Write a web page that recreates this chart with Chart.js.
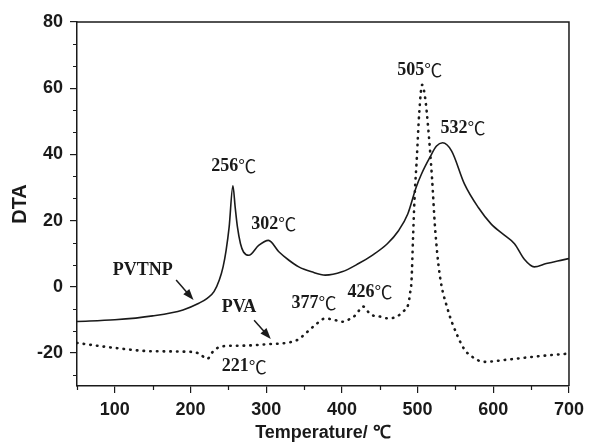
<!DOCTYPE html>
<html>
<head>
<meta charset="utf-8">
<script src="https://cdn.jsdelivr.net/npm/chart.js@4.4.1/dist/chart.umd.min.js"></script>
<style>
  body { margin: 0; background: #fff; }
  canvas { display: block; }
</style>
</head>
<body>
<canvas id="dtaChart" width="590" height="444"></canvas>
<script>
// PVTNP (solid curve)
var pvtnpTemp = [50, 100, 150, 190, 211, 222, 231, 238, 243, 247, 251, 256, 259, 262, 266, 270, 277, 290, 303, 317, 330, 343, 360, 378, 400, 422, 440, 460, 475, 487, 498, 505, 516, 525, 533, 545, 562, 580, 597, 615, 628, 641, 654, 670, 685, 700];
var pvtnpDta = [-10.5, -10, -8.8, -7, -5, -3.5, -1.5, 2, 6, 11, 18, 30.5, 24, 18, 13, 10.5, 9.5, 12.5, 14, 10.5, 8, 6, 4.5, 3.5, 4.5, 7, 9.5, 13, 17, 22, 30, 34, 39, 42.5, 43.5, 41, 31, 24, 19, 15.5, 13, 8.3, 6, 7, 7.8, 8.5];

// PVA (dotted curve)
var pvaTemp = [50, 100, 150, 203, 212, 222, 230, 242, 270, 300, 340, 355, 365, 378, 390, 400, 410, 418, 428, 438, 450, 462, 474, 481, 488, 490, 492, 494, 496, 499, 502, 506, 510, 514, 519, 523, 529, 540, 553, 562, 571, 588, 620, 660, 700];
var pvaDta = [-17, -18.5, -19.5, -19.7, -20.3, -21.8, -19.5, -18, -17.8, -17.4, -16.2, -13.5, -11.5, -9.6, -10, -10.6, -9.8, -8.6, -6, -8.4, -9, -9.6, -8.8, -7.5, -5, -2, 2, 15, 27, 39, 52, 61, 57, 48, 33, 18, 4, -7, -15, -19, -21, -22.7, -22, -21, -20.2];

// text labels placed in data coordinates
var noteText = ["256℃", "302℃", "505℃", "532℃", "PVTNP", "PVA", "377℃", "426℃", "221℃"];
var noteX = [257, 310, 503, 560, 137, 264, 363, 437, 271];
var noteY = [36.4, 19, 65.4, 47.8, 5, -6.1, -5.1, -1.6, -24.2];

// arrows: from (x0,y0) to (x1,y1)
var arrowX0 = [181, 284];
var arrowY0 = [2, -10.1];
var arrowX1 = [204, 306];
var arrowY1 = [-4, -15.8];

var xMinor = [50, 150, 250, 350, 450, 550, 650];
var yMinor = [-26.67, -13.33, -6.67, 6.67, 13.33, 26.67, 33.33, 46.67, 53.33, 66.67, 73.33];

var ink = "#1a1a1a";
var numFont = "bold 18px 'Liberation Serif'";
var degFont = "18px 'Noto Sans CJK SC'";

function toPoints(xs, ys) {
  return xs.map(function(x, i) { return { x: x, y: ys[i] }; });
}

function drawNote(ctx, text, cx, cy) {
  var head = text.replace("℃", "");
  var hasDeg = text.indexOf("℃") >= 0;
  ctx.font = numFont;
  var w1 = ctx.measureText(head).width;
  ctx.font = degFont;
  var w2 = hasDeg ? ctx.measureText("℃").width : 0;
  var left = cx - (w1 + w2) / 2;
  ctx.textAlign = "left";
  ctx.textBaseline = "middle";
  ctx.font = numFont;
  ctx.fillText(head, left, cy);
  if (hasDeg) {
    ctx.font = degFont;
    ctx.fillText("℃", left + w1, cy);
  }
}

var extras = {
  id: "extras",
  afterDraw: function(chart) {
    var ctx = chart.ctx;
    var xs = chart.scales.x;
    var ys = chart.scales.y;
    var area = chart.chartArea;
    ctx.save();
    ctx.strokeStyle = ink;
    ctx.fillStyle = ink;

    // frame top and right
    ctx.lineWidth = 1.5;
    ctx.beginPath();
    ctx.moveTo(area.left, area.top);
    ctx.lineTo(area.right, area.top);
    ctx.lineTo(area.right, area.bottom);
    ctx.stroke();

    // minor ticks
    ctx.lineWidth = 1.2;
    ctx.beginPath();
    xMinor.forEach(function(v) {
      var px = Math.round(xs.getPixelForValue(v)) + 0.5;
      ctx.moveTo(px, area.bottom);
      ctx.lineTo(px, area.bottom + 4);
    });
    yMinor.forEach(function(v) {
      var py = Math.round(ys.getPixelForValue(v)) + 0.5;
      ctx.moveTo(area.left, py);
      ctx.lineTo(area.left - 4, py);
    });
    ctx.stroke();

    // labels
    noteText.forEach(function(t, i) {
      drawNote(ctx, t, xs.getPixelForValue(noteX[i]), ys.getPixelForValue(noteY[i]));
    });

    // arrows
    arrowX0.forEach(function(v, i) {
      var x0 = xs.getPixelForValue(v), y0 = ys.getPixelForValue(arrowY0[i]);
      var x1 = xs.getPixelForValue(arrowX1[i]), y1 = ys.getPixelForValue(arrowY1[i]);
      var a = Math.atan2(y1 - y0, x1 - x0);
      ctx.lineWidth = 1.5;
      ctx.beginPath();
      ctx.moveTo(x0, y0);
      ctx.lineTo(x1 - 6 * Math.cos(a), y1 - 6 * Math.sin(a));
      ctx.stroke();
      ctx.beginPath();
      ctx.moveTo(x1, y1);
      ctx.lineTo(x1 - 11 * Math.cos(a) + 4 * Math.sin(a), y1 - 11 * Math.sin(a) - 4 * Math.cos(a));
      ctx.lineTo(x1 - 11 * Math.cos(a) - 4 * Math.sin(a), y1 - 11 * Math.sin(a) + 4 * Math.cos(a));
      ctx.closePath();
      ctx.fill();
    });
    ctx.restore();
  }
};

var tickFont = { family: "'Liberation Sans', Arial", size: 18, weight: "bold" };

var ctx = document.getElementById("dtaChart").getContext("2d");
var dtaChart = new Chart(ctx, {
  type: "line",
  data: {
    datasets: [
      {
        label: "PVTNP",
        data: toPoints(pvtnpTemp, pvtnpDta),
        borderColor: ink,
        borderWidth: 1.6,
        pointRadius: 0,
        cubicInterpolationMode: "monotone"
      },
      {
        label: "PVA",
        data: toPoints(pvaTemp, pvaDta),
        borderColor: ink,
        borderWidth: 2.6,
        borderDash: [0.5, 6.2],
        borderCapStyle: "round",
        pointRadius: 0,
        cubicInterpolationMode: "monotone"
      }
    ]
  },
  options: {
    responsive: false,
    animation: false,
    layout: { padding: { top: 22, right: 18, left: 0, bottom: 0 } },
    plugins: { legend: { display: false }, tooltip: { enabled: false } },
    scales: {
      x: {
        type: "linear",
        min: 50,
        max: 700,
        ticks: { stepSize: 100, includeBounds: false, font: tickFont, color: ink, padding: 6, maxRotation: 0 },
        grid: { drawOnChartArea: false, tickLength: 7, color: ink, lineWidth: 1.2 },
        border: { color: ink, width: 1.5 },
        title: { display: true, text: "Temperature/ ℃", font: tickFont, color: ink, padding: 0 },
        afterFit: function(s) { s.height = 58; }
      },
      y: {
        min: -30,
        max: 80,
        ticks: { stepSize: 20, includeBounds: false, font: tickFont, color: ink, padding: 7 },
        grid: { drawOnChartArea: false, tickLength: 7, color: ink, lineWidth: 1.2 },
        border: { color: ink, width: 1.5 },
        title: { display: true, text: "DTA", font: { family: "'Liberation Sans', Arial", size: 20, weight: "bold" }, color: ink, padding: { top: 8, bottom: 0 } },
        afterFit: function(s) { s.width = 77; }
      }
    }
  },
  plugins: [extras]
});
</script>
</body>
</html>
